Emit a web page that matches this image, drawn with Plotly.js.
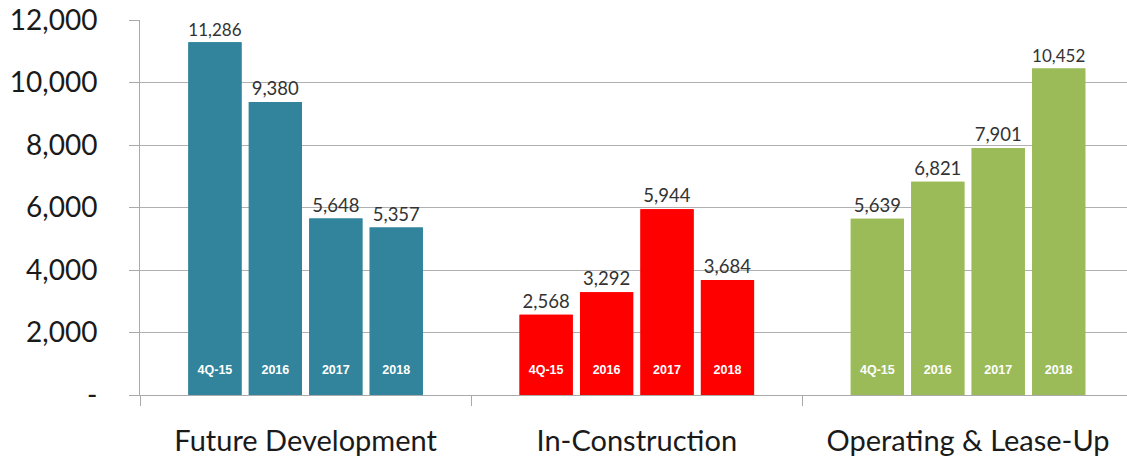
<!DOCTYPE html>
<html>
<head>
<meta charset="utf-8">
<script src="https://cdn.plot.ly/plotly-3.0.1.min.js"></script>
<style>html,body{margin:0;padding:0;background:#fff;}#chart{width:1127px;height:458px;}</style>
</head>
<body>
<div id="chart"></div>
<script>
const categories = ["Future Development", "In-Construction", "Operating & Lease-Up"];
const periods = ["4Q-15", "2016", "2017", "2018"];
const values = {
  "4Q-15": [11286, 2568, 5639],
  "2016": [9380, 3292, 6821],
  "2017": [5648, 5944, 7901],
  "2018": [5357, 3684, 10452]
};
const categoryColors = ["#31849B", "#FF0000", "#9BBB59"];
const yTickVals = [0, 2000, 4000, 6000, 8000, 10000, 12000];
const yTickText = ["-", "2,000", "4,000", "6,000", "8,000", "10,000", "12,000"];

const traces = [];
periods.forEach(p => {
  traces.push({
    type: "bar", x: categories, y: values[p], offsetgroup: p, name: p,
    marker: {color: categoryColors, line: {width: 0}},
    texttemplate: "%{y:,}", textposition: "outside", cliponaxis: false,
    textfont: {family: "Lato, sans-serif", size: 18.5, color: "#333333"},
    hoverinfo: "skip", showlegend: false
  });
  traces.push({
    type: "bar", x: categories, y: values[p], offsetgroup: p, name: p + " label",
    marker: {color: categoryColors, line: {width: 0}},
    text: categories.map(() => p + "<br><span style='font-size:8px'> </span>"),
    textposition: "inside", insidetextanchor: "start",
    textangle: 0, constraintext: "none",
    textfont: {family: "Arial, Liberation Sans, sans-serif", size: 12.5, color: "#ffffff", weight: "bold"},
    hoverinfo: "skip", showlegend: false
  });
});

const layout = {
  width: 1127, height: 458,
  margin: {l: 140, r: 0, t: 20, b: 63},
  paper_bgcolor: "#ffffff", plot_bgcolor: "#ffffff",
  barmode: "group", bargap: 0.27, bargroupgap: 0.12,
  showlegend: false,
  xaxis: {
    type: "category", range: [-0.5, 2.48],
    tickson: "boundaries", ticks: "outside", ticklen: 10, tickcolor: "#aaaaaa", tickwidth: 1,
    showline: true, linecolor: "#aaaaaa", linewidth: 1,
    showgrid: false, ticklabelstandoff: 20,
    tickfont: {family: "Lato, sans-serif", size: 29, color: "#1a1a1a"}
  },
  yaxis: {
    range: [0, 12000], tickvals: yTickVals, ticktext: yTickText,
    ticks: "outside", ticklen: 10, tickcolor: "#aaaaaa",
    showline: true, linecolor: "#aaaaaa", linewidth: 1,
    showgrid: true, gridcolor: "#b0b0b0", gridwidth: 1, zeroline: false,
    ticklabelstandoff: 26,
    tickfont: {family: "Lato, sans-serif", size: 28, color: "#1a1a1a"}
  }
};
Plotly.newPlot("chart", traces, layout, {displayModeBar: false, staticPlot: true});
</script>
</body>
</html>
